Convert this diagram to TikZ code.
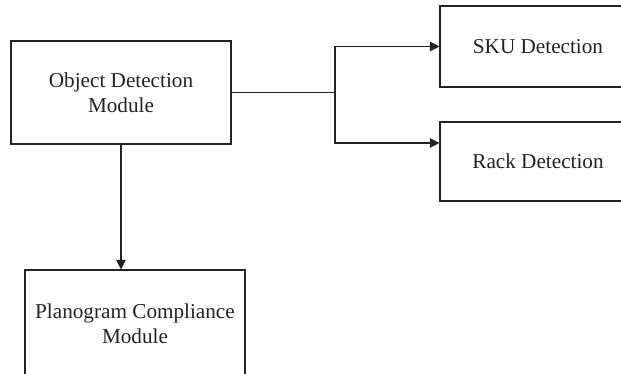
\documentclass[tikz,border=0pt]{standalone}
\usepackage{fontspec}
\setmainfont{Liberation Serif}
\usetikzlibrary{arrows.meta,positioning,calc}
\definecolor{FlowLine}{HTML}{222222}

\tikzset{
  modbox/.style={draw=FlowLine, line width=0.55pt, align=center, inner sep=0pt,
    font=\fontsize{10.6}{12.5}\selectfont, text=FlowLine},
  flowarr/.style={-{Triangle[length=4.8pt,width=4.8pt]}, line width=0.55pt, draw=FlowLine}
}

\begin{document}
\begin{tikzpicture}[x=0.5pt, y=-0.5pt]
\useasboundingbox (0,0) rectangle (621,374);
\clip (0,0) rectangle (621,374);

% Modules
\node[modbox, minimum width=110pt, minimum height=51.5pt] (objdet) at (121,92.5) {Object Detection\\Module};
\node[modbox, minimum width=110pt, minimum height=54pt] (plan) at (135,324) {Planogram Compliance\\Module};

% Detection outputs
\node[modbox, minimum width=98pt, minimum height=40.5pt] (sku) at (538,46.5) {SKU Detection};
\node[modbox, minimum width=98pt, minimum height=39.5pt] (rack) at (538,161.5) {Rack Detection};

% Branch point
\coordinate (branch) at (335,92.5);

\draw[line width=0.55pt, FlowLine] (objdet.east) -- (branch);
\draw[flowarr] (branch) |- (sku.west);
\draw[flowarr] (branch) |- ([yshift=9.25pt]rack.west);
\draw[flowarr] (objdet.south) -- (objdet.south |- plan.north);
\end{tikzpicture}
\end{document}
